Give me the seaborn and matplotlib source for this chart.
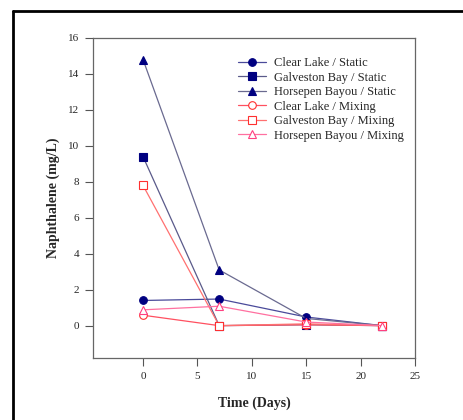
import matplotlib
matplotlib.use("Agg")
import matplotlib.pyplot as plt
import seaborn as sns
import numpy as np
from matplotlib.lines import Line2D

sns.set_theme(style="white")
plt.rcParams['font.family'] = ['Liberation Serif', 'DejaVu Serif']

days = [0, 7, 15, 22]
clear_static = [1.4, 1.48, 0.48, 0.0]
galv_static = [9.4, 0.0, 0.05, 0.0]
horse_static = [14.8, 3.1, 0.4, 0.0]
clear_mix = [0.58, 0.0, 0.05, 0.0]
galv_mix = [7.8, 0.0, 0.1, 0.0]
horse_mix = [0.88, 1.08, 0.2, 0.0]

labels = ["Clear Lake / Static", "Galveston Bay / Static", "Horsepen Bayou / Static",
          "Clear Lake / Mixing", "Galveston Bay / Mixing", "Horsepen Bayou / Mixing"]
series = [clear_static, galv_static, horse_static, clear_mix, galv_mix, horse_mix]
markers = ["o", "s", "^", "o", "s", "^"]
line_colors = ["#4a4a9a", "#5a5a8a", "#6a6a90", "#ff5060", "#ff7070", "#ff70a0"]
marker_colors = ["#000080", "#000080", "#000080", "#ff3030", "#ff3030", "#ff4080"]

fig = plt.figure(figsize=(4.64, 4.2), dpi=100)
ax = fig.add_axes([0.2004, 0.1476, 0.694, 0.762])

for vals, lab, m, lc, mc, i in zip(series, labels, markers, line_colors, marker_colors, range(6)):
    static = i < 3
    sns.lineplot(x=days, y=vals, ax=ax, label=lab, marker=m, color=lc,
                 markersize=5.5 if m != "^" else 6,
                 markerfacecolor=mc if static else "white",
                 markeredgecolor=mc, markeredgewidth=0.8,
                 linewidth=0.9, zorder=2 if static else 3)

ax.set_xlim(-4.6, 25)
ax.set_ylim(-1.8, 16)
ax.set_xticks([0, 5, 10, 15, 20, 25])
ax.set_yticks([0, 2, 4, 6, 8, 10, 12, 14, 16])
ax.tick_params(axis='both', direction='out', length=6, width=0.8, color='#555555',
               labelsize=8, pad=4, bottom=True, left=True)
for s in ax.spines.values():
    s.set_color('#666666')
    s.set_linewidth(0.9)

ax.set_xlabel("Time (Days)", fontsize=10, fontweight='bold', labelpad=11)
ax.set_ylabel("Naphthalene (mg/L)", fontsize=10, fontweight='bold', labelpad=6)

leg = ax.legend(loc='upper right', bbox_to_anchor=(1.0, 0.975), frameon=False,
                fontsize=9, labelspacing=0.2, handlelength=2.3, handletextpad=0.6)

# outer frame (top and left edges)
fig.add_artist(Line2D([13/464, 13/464], [0, 1 - 11/420], transform=fig.transFigure,
                      color='black', linewidth=2))
fig.add_artist(Line2D([13/464, 1], [1 - 11/420, 1 - 11/420], transform=fig.transFigure,
                      color='black', linewidth=2))

fig.savefig("out.png", dpi=100)
